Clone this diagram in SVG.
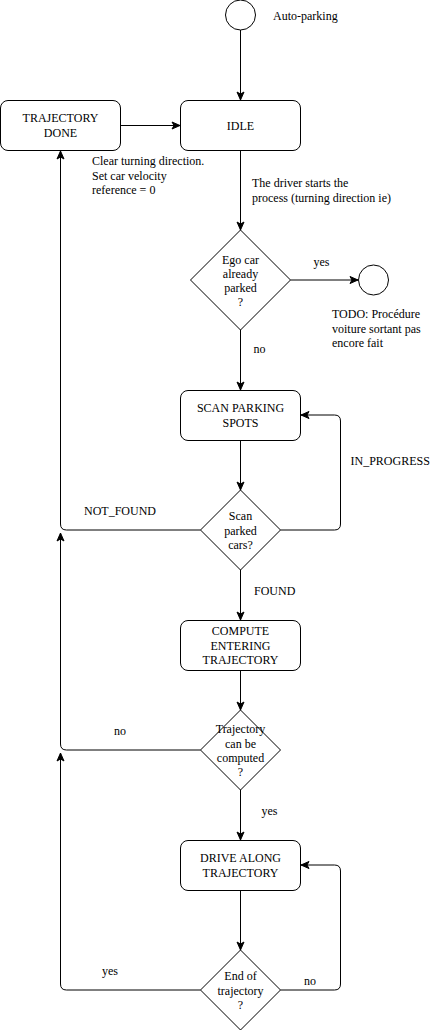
<svg xmlns="http://www.w3.org/2000/svg" width="444" height="1031" viewBox="0 0 444 1031">
<style>
text{font-family:"Liberation Serif","Times New Roman",serif;font-size:12px;fill:#000}
.c{text-anchor:middle}
.box{fill:#fff;stroke:#000;stroke-width:1}
.e{fill:none;stroke:#000;stroke-width:1}
.a{marker-end:url(#arr)}
</style>
<defs>
<marker id="arr" markerUnits="userSpaceOnUse" markerWidth="10" markerHeight="10" refX="9" refY="5" orient="auto" viewBox="0 0 10 10">
<path d="M1,1.5 L9,5 L1,8.5 L3,5 Z" fill="#000" stroke="#000" stroke-width="1"/>
</marker>
</defs>
<rect width="444" height="1031" fill="#fff"/>
<g id="connectors">
<path class="e a" d="M240.5,30 V100"/>
<path class="e a" d="M120.5,125.5 H180"/>
<path class="e a" d="M240.5,150.5 V230"/>
<path class="e a" d="M290.5,280 H358"/>
<path class="e a" d="M240.5,330 V390"/>
<path class="e a" d="M240.5,440.5 V490"/>
<path class="e a" d="M280.5,530 H334.5 Q340.5,530 340.5,524 V421 Q340.5,415 334.5,415 H301"/>
<path class="e a" d="M200.5,530 H66.5 Q60.5,530 60.5,524 V151"/>
<path class="e a" d="M240.5,570 V620"/>
<path class="e a" d="M240.5,670.5 V710"/>
<path class="e a" d="M200.5,750 H66.5 Q60.5,750 60.5,744 V533"/>
<path class="e a" d="M240.5,790 V840"/>
<path class="e a" d="M240.5,890.5 V950"/>
<path class="e a" d="M280.5,990 H334.5 Q340.5,990 340.5,984 V871 Q340.5,865 334.5,865 H301"/>
<path class="e a" d="M200.5,990 H66.5 Q60.5,990 60.5,984 V753"/>
<text x="252" y="187">The driver starts the</text>
<text x="252" y="202">process (turning direction ie)</text>
<text x="92" y="165">Clear turning direction.</text>
<text x="92" y="179.5">Set car velocity</text>
<text x="92" y="194">reference = 0</text>
<text class="c" x="321.5" y="266">yes</text>
<text class="c" x="259.5" y="353">no</text>
<text x="350.5" y="465">IN_PROGRESS</text>
<text x="84" y="515">NOT_FOUND</text>
<text x="254" y="595">FOUND</text>
<text class="c" x="120" y="735">no</text>
<text class="c" x="269.5" y="815">yes</text>
<text class="c" x="310" y="985">no</text>
<text class="c" x="110" y="975">yes</text>
</g>
<g id="start">
<circle cx="240.5" cy="15" r="15" class="box"/>
<text x="273" y="20">Auto-parking</text>
</g>
<g id="idle">
<rect x="180.5" y="100.5" width="120" height="50" rx="7.5" class="box"/>
<text class="c" x="240.5" y="130">IDLE</text>
</g>
<g id="trajectory-done">
<rect x="0.5" y="100.5" width="120" height="50" rx="7.5" class="box"/>
<text class="c" x="60.5" y="122">TRAJECTORY</text>
<text class="c" x="60.5" y="137">DONE</text>
</g>
<g id="ego-parked">
<path d="M240.5,230 L290.5,280 L240.5,330 L190.5,280 Z" class="box"/>
<text class="c" x="240.5" y="264">Ego car</text>
<text class="c" x="240.5" y="277.5">already</text>
<text class="c" x="240.5" y="292">parked</text>
<text class="c" x="240.5" y="306">?</text>
</g>
<g id="exit-end">
<circle cx="373.5" cy="280" r="15" class="box"/>
<text x="332" y="318">TODO: Procédure</text>
<text x="332" y="333">voiture sortant pas</text>
<text x="332" y="347">encore fait</text>
</g>
<g id="scan-spots">
<rect x="180.5" y="390.5" width="120" height="50" rx="7.5" class="box"/>
<text class="c" x="240.5" y="412">SCAN PARKING</text>
<text class="c" x="240.5" y="426.5">SPOTS</text>
</g>
<g id="scan-cars">
<path d="M240.5,490 L280.5,530 L240.5,570 L200.5,530 Z" class="box"/>
<text class="c" x="240.5" y="520">Scan</text>
<text class="c" x="240.5" y="535">parked</text>
<text class="c" x="240.5" y="549">cars?</text>
</g>
<g id="compute">
<rect x="180.5" y="620.5" width="120" height="50" rx="7.5" class="box"/>
<text class="c" x="240.5" y="635">COMPUTE</text>
<text class="c" x="240.5" y="649.5">ENTERING</text>
<text class="c" x="240.5" y="664">TRAJECTORY</text>
</g>
<g id="can-compute">
<path d="M240.5,710 L280.5,750 L240.5,790 L200.5,750 Z" class="box"/>
<text class="c" x="240.5" y="733">Trajectory</text>
<text class="c" x="240.5" y="747.5">can be</text>
<text class="c" x="240.5" y="762">computed</text>
<text class="c" x="240.5" y="776">?</text>
</g>
<g id="drive">
<rect x="180.5" y="840.5" width="120" height="50" rx="7.5" class="box"/>
<text class="c" x="240.5" y="862">DRIVE ALONG</text>
<text class="c" x="240.5" y="876.5">TRAJECTORY</text>
</g>
<g id="end-traj">
<path d="M240.5,950 L280.5,990 L240.5,1030 L200.5,990 Z" class="box"/>
<text class="c" x="240.5" y="980">End of</text>
<text class="c" x="240.5" y="995">trajectory</text>
<text class="c" x="240.5" y="1008.5">?</text>
</g>
</svg>
